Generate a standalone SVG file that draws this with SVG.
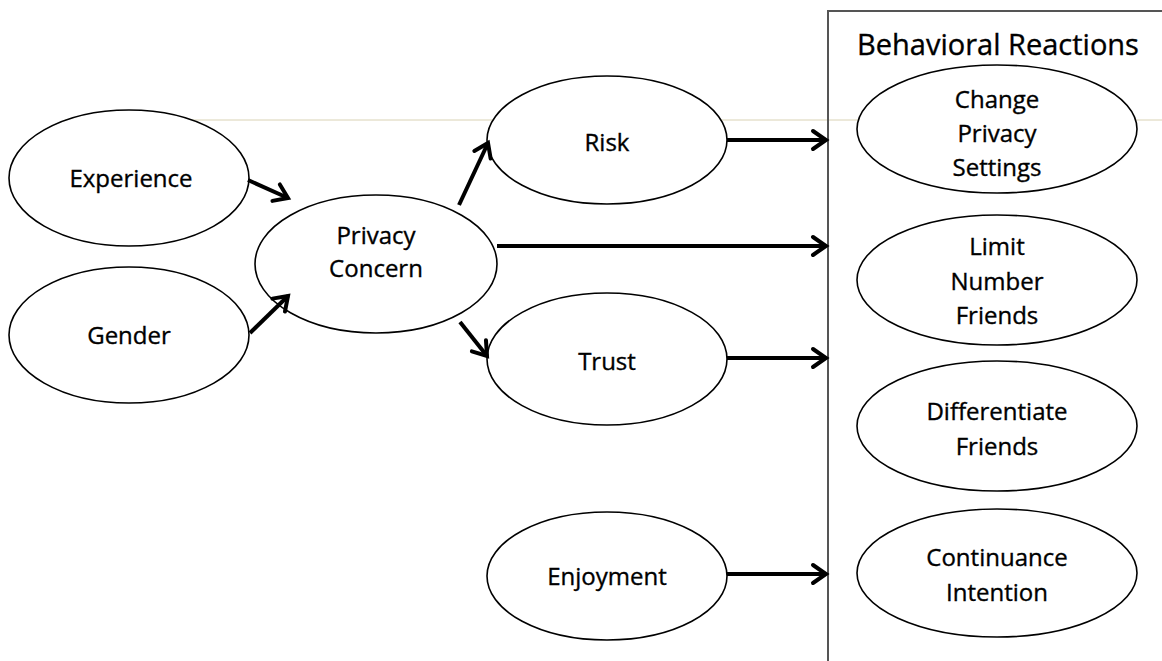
<svg xmlns="http://www.w3.org/2000/svg" width="1162" height="661" viewBox="0 0 1162 661">
<style>
.n{fill:#fff;stroke:#000;stroke-width:1.6}
.t{font-family:"Open Sans","Liberation Sans",sans-serif;font-size:24px;fill:#000;stroke:#000;stroke-width:0.35;text-anchor:middle}
.c{stroke:#000;stroke-width:4;fill:none}
.h{stroke:#000;stroke-width:4;fill:none;stroke-linecap:round;stroke-linejoin:miter}
</style>
<defs>
<marker id="a" markerUnits="userSpaceOnUse" viewBox="-16 -12 20 24" markerWidth="20" markerHeight="24" refX="0" refY="0" orient="auto">
<path class="h" d="M-13,-9 L0,0 L-13,9"/>
</marker>
</defs>
<rect width="1162" height="661" fill="#fff"/>
<line x1="65" y1="120" x2="1162" y2="120" stroke="#d9d2b4" stroke-width="1"/>
<g id="box">
<path d="M1170,11 L828,11 L828,661" fill="none" stroke="#555" stroke-width="2"/>
<text class="t" x="998" y="55" style="font-size:29px">Behavioral Reactions</text>
</g>
<g id="experience"><ellipse class="n" cx="129" cy="178" rx="120" ry="68"/><text class="t" x="131" y="187">Experience</text></g>
<g id="gender"><ellipse class="n" cx="129" cy="335" rx="120" ry="68"/><text class="t" x="129" y="344">Gender</text></g>
<g id="privacy"><ellipse class="n" cx="376" cy="264" rx="121" ry="69"/><text class="t" x="376" y="244">Privacy</text><text class="t" x="376" y="277">Concern</text></g>
<g id="risk"><ellipse class="n" cx="607" cy="140" rx="120" ry="64"/><text class="t" x="607" y="151">Risk</text></g>
<g id="trust"><ellipse class="n" cx="607" cy="359" rx="120" ry="66"/><text class="t" x="607" y="370">Trust</text></g>
<g id="enjoyment"><ellipse class="n" cx="607" cy="576" rx="120" ry="64"/><text class="t" x="607" y="585">Enjoyment</text></g>
<g id="change"><ellipse class="n" cx="997" cy="129" rx="140" ry="64"/><text class="t" x="997" y="108">Change</text><text class="t" x="997" y="142">Privacy</text><text class="t" x="997" y="176">Settings</text></g>
<g id="limit"><ellipse class="n" cx="997" cy="280" rx="140" ry="65"/><text class="t" x="997" y="255">Limit</text><text class="t" x="997" y="290">Number</text><text class="t" x="997" y="324">Friends</text></g>
<g id="differentiate"><ellipse class="n" cx="997" cy="426" rx="140" ry="65"/><text class="t" x="997" y="420">Differentiate</text><text class="t" x="997" y="455">Friends</text></g>
<g id="continuance"><ellipse class="n" cx="997" cy="573" rx="140" ry="64"/><text class="t" x="997" y="566">Continuance</text><text class="t" x="997" y="601">Intention</text></g>
<g id="connectors">
<line class="c" x1="248" y1="180" x2="288" y2="198" marker-end="url(#a)"/>
<line class="c" x1="250" y1="333" x2="288" y2="296" marker-end="url(#a)"/>
<line class="c" x1="459" y1="205" x2="488" y2="143" marker-end="url(#a)"/>
<line class="c" x1="497" y1="246" x2="826" y2="246" marker-end="url(#a)"/>
<line class="c" x1="460" y1="322" x2="487" y2="356" marker-end="url(#a)"/>
<line class="c" x1="727" y1="140" x2="826" y2="140" marker-end="url(#a)"/>
<line class="c" x1="727" y1="358" x2="826" y2="358" marker-end="url(#a)"/>
<line class="c" x1="727" y1="574" x2="826" y2="574" marker-end="url(#a)"/>
</g>
</svg>
